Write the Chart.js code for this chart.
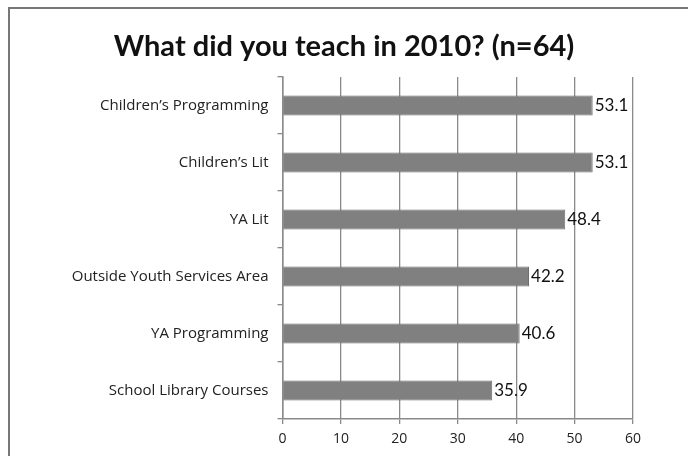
<!DOCTYPE html>
<html>
<head>
<meta charset="utf-8">
<script src="https://cdn.jsdelivr.net/npm/chart.js@4/dist/chart.umd.min.js"></script>
<style>
  html,body{margin:0;padding:0;background:#fff;}
  #wrap{position:relative;width:688px;height:456px;overflow:hidden;}
  #frame{position:absolute;left:8px;top:7px;width:700px;height:470px;border-left:2px solid #777;border-top:2px solid #777;box-sizing:border-box;}
  canvas{position:absolute;left:0;top:0;}
</style>
</head>
<body>
<div id="wrap">
  <div id="frame"></div>
  <canvas id="c" width="688" height="456"></canvas>
</div>
<script>
const chartTitle = "What did you teach in 2010? (n=64)";
const categories = [
  "Children\u2019s Programming",
  "Children\u2019s Lit",
  "YA Lit",
  "Outside Youth Services Area",
  "YA Programming",
  "School Library Courses"
];
const percentValues = [53.1, 53.1, 48.4, 42.2, 40.6, 35.9];
const xTickMin = 0, xTickMax = 60, xTickStep = 10;

const FONT = "Lato, 'Open Sans', 'Liberation Sans', sans-serif";
const LABEL_FONT = "'Open Sans', Lato, sans-serif";

const titlePlugin = {
  id: 'titleDraw',
  afterDraw(chart) {
    const ctx = chart.ctx;
    ctx.save();
    ctx.font = "bold 29px " + FONT;
    ctx.fillStyle = "#111";
    ctx.textAlign = "center";
    ctx.textBaseline = "middle";
    ctx.fillText(chartTitle, 344, 47);
    ctx.restore();
  }
};

const valueLabels = {
  id: 'valueLabels',
  afterDatasetsDraw(chart) {
    const ctx = chart.ctx;
    const meta = chart.getDatasetMeta(0);
    ctx.save();
    ctx.font = "17px " + FONT;
    ctx.fillStyle = "#111";
    ctx.textAlign = "left";
    ctx.textBaseline = "middle";
    meta.data.forEach((bar, i) => {
      ctx.fillText(percentValues[i].toFixed(1), bar.x + 2, bar.y);
    });
    ctx.restore();
  }
};

new Chart(document.getElementById('c'), {
  type: 'bar',
  data: {
    labels: categories,
    datasets: [{
      data: percentValues,
      backgroundColor: '#808080',
      borderColor: '#6e6e6e',
      borderWidth: 1,
      borderSkipped: 'start',
      categoryPercentage: 1.0,
      barPercentage: 0.35
    }]
  },
  options: {
    indexAxis: 'y',
    responsive: false,
    animation: false,
    devicePixelRatio: 1,
    layout: { padding: { top: 77, right: 55, bottom: 0, left: 0 } },
    plugins: { legend: { display: false }, tooltip: { enabled: false }, title: { display: false } },
    scales: {
      x: {
        min: xTickMin, max: xTickMax,
        ticks: { stepSize: xTickStep, color: '#222', font: { family: LABEL_FONT, size: 14 }, padding: 7 },
        grid: { color: '#8a8a8a', lineWidth: 1.3, tickLength: 5, drawTicks: true },
        border: { display: true, color: '#8a8a8a', width: 1.5 },
        afterFit(scale) { scale.height = 37; }
      },
      y: {
        ticks: { color: '#222', font: { family: LABEL_FONT, size: 15 }, padding: 9 },
        grid: { offset: true, drawOnChartArea: false, color: '#8a8a8a', tickLength: 5, lineWidth: 1.3 },
        border: { display: true, color: '#8a8a8a', width: 1.5 },
        afterFit(scale) { scale.width = 282.5; }
      }
    }
  },
  plugins: [titlePlugin, valueLabels]
});
</script>
</body>
</html>
